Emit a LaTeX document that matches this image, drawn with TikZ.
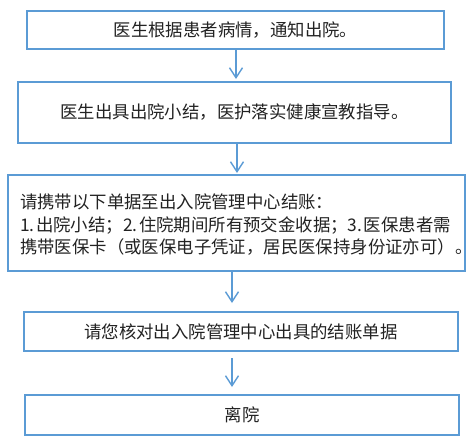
\documentclass[tikz,border=0pt]{standalone}
\usepackage{fontspec}
\setmainfont{Noto Sans CJK SC}
\usetikzlibrary{arrows.meta}
\definecolor{boxblue}{HTML}{5B9BD5}
\definecolor{txt}{HTML}{222222}
\tikzset{
  stepbox/.style={draw=boxblue, line width=2pt, inner sep=0pt, text=txt,
    font=\fontsize{17.4pt}{22.5pt}\selectfont},
  arr/.style={draw=boxblue, line width=1.4pt, -{Straight Barb[length=10pt,width=13pt,line width=1.4pt]}}
}
\newcommand{\dg}[1]{#1\hspace{1.5pt}}
\begin{document}
\begin{tikzpicture}[x=1pt,y=-1pt]
\useasboundingbox (0,0) rectangle (475,448);
\node[stepbox, minimum width=417pt, minimum height=38pt] (b1) at (235.5,30) {医生根据患者病情，通知出院。};
\node[stepbox, minimum width=433pt, minimum height=61pt] (b2) at (234.5,112.5) {医生出具出院小结，医护落实健康宣教指导。};
\node[stepbox, minimum width=457pt, minimum height=96pt] (b3) at (236.5,223) {};
\node[anchor=west, text=txt, font=\fontsize{17.4pt}{22.5pt}\selectfont, align=left, inner sep=0pt] (t3) at (20,225)
  {请携带以下单据至出入院管理中心结账：\\\dg{1.}出院小结；\dg{2.}住院期间所有预交金收据；\dg{3.}医保患者需\\携带医保卡（或医保电子凭证，居民医保持身份证亦可）。};
\node[stepbox, minimum width=434pt, minimum height=39pt] (b4) at (241,331.5) {请您核对出入院管理中心出具的结账单据};
\node[stepbox, minimum width=434pt, minimum height=40pt] (b5) at (242,415) {离院};
\coordinate (a1) at (236,0);
\coordinate (a2) at (237,0);
\coordinate (a3) at (232,0);
\draw[arr, shorten >=2pt] (b1.south -| a1) -- (b2.north -| a1);
\draw[arr, shorten >=1pt] (b2.south -| a2) -- (b3.north -| a2);
\draw[arr, shorten >=8pt] (b3.south -| a3) -- (b4.north -| a3);
\draw[arr, shorten <=6pt, shorten >=7pt] (b4.south -| a3) -- (b5.north -| a3);
\end{tikzpicture}
\end{document}
